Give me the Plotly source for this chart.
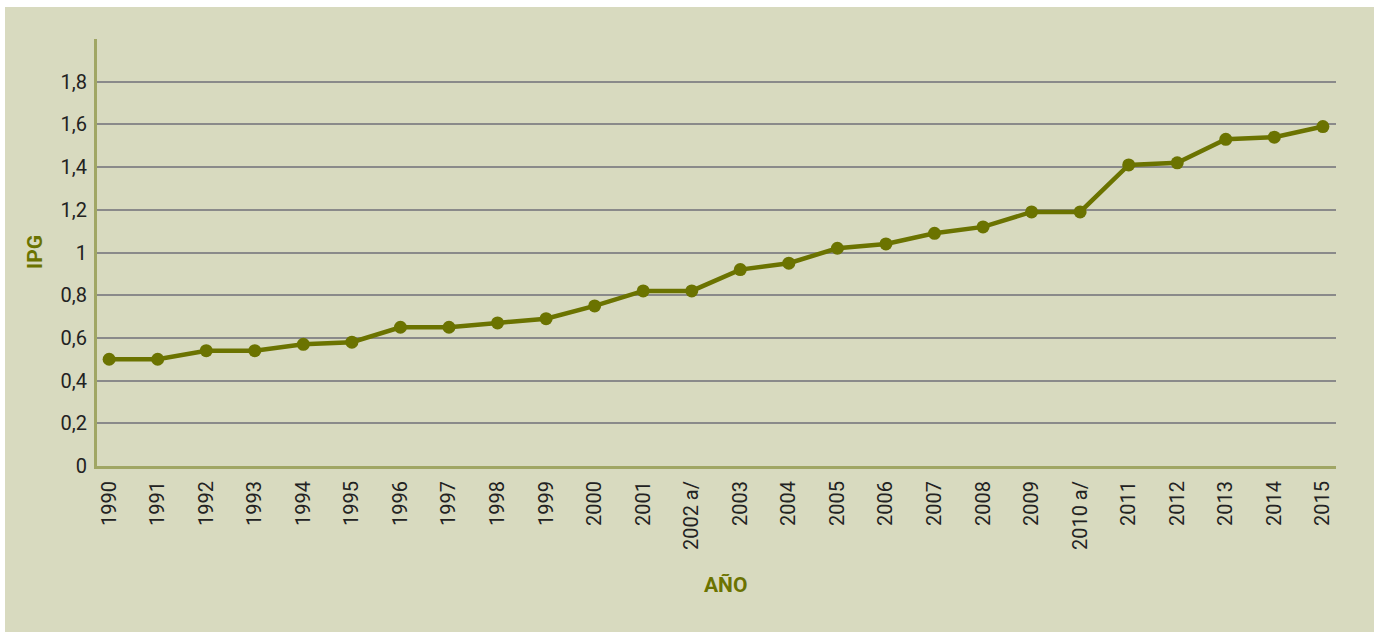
import plotly.graph_objects as go

years = ["1990", "1991", "1992", "1993", "1994", "1995", "1996", "1997", "1998", "1999",
         "2000", "2001", "2002 a/", "2003", "2004", "2005", "2006", "2007", "2008", "2009",
         "2010 a/", "2011", "2012", "2013", "2014", "2015"]
ipg = [0.50, 0.50, 0.54, 0.54, 0.57, 0.58, 0.65, 0.65, 0.67, 0.69,
       0.75, 0.82, 0.82, 0.92, 0.95, 1.02, 1.04, 1.09, 1.12, 1.19,
       1.19, 1.41, 1.42, 1.53, 1.54, 1.59]
ytick_vals = [0, 0.2, 0.4, 0.6, 0.8, 1.0, 1.2, 1.4, 1.6, 1.8]
ytick_text = ["0", "0,2", "0,4", "0,6", "0,8", "1", "1,2", "1,4", "1,6", "1,8"]

OLIVE = "#6b7300"
BG = "#d8dabf"
AXIS = "#a0a664"

W, H = 1378, 632
L, R, T, B = 97, 1336, 39, 466
pw, ph = R - L, B - T

def px(x):
    return (x - L) / pw

def py(y):
    return (B - y) / ph

fig = go.Figure()
fig.add_trace(go.Scatter(
    x=list(range(len(years))), y=ipg, mode="lines+markers",
    line=dict(color=OLIVE, width=4.5),
    marker=dict(color=OLIVE, size=13),
    hoverinfo="skip", showlegend=False, cliponaxis=False,
))

fig.update_layout(
    width=W, height=H,
    margin=dict(l=L, r=W - R, t=T, b=H - B),
    paper_bgcolor="white",
    plot_bgcolor="rgba(0,0,0,0)",
    font=dict(family="Roboto", size=20, color="#222222"),
    shapes=[dict(type="rect", xref="paper", yref="paper",
                 x0=px(5), x1=px(1374), y0=py(632), y1=py(7),
                 fillcolor=BG, line=dict(width=0), layer="below")],
    xaxis=dict(
        range=[-0.25, 25.27],
        tickmode="array", tickvals=list(range(len(years))), ticktext=years,
        tickangle=-90, showgrid=False, zeroline=False,
        showline=True, linecolor=AXIS, linewidth=3,
        ticks="outside", ticklen=4, tickcolor="rgba(0,0,0,0)",
        tickfont=dict(size=20, color="#222222"),
    ),
    yaxis=dict(
        range=[0, 2.0],
        tickmode="array", tickvals=ytick_vals, ticktext=ytick_text,
        showgrid=True, gridcolor="#8a8a8a", gridwidth=1.6,
        zeroline=False, showline=True, linecolor=AXIS, linewidth=3,
        ticks="outside", ticklen=3, tickcolor="rgba(0,0,0,0)",
        tickfont=dict(size=20, color="#222222"),
    ),
    annotations=[
        dict(text="<b>IPG</b>", xref="paper", yref="paper", x=px(35), y=py(252),
             textangle=-90, showarrow=False, font=dict(size=21, color=OLIVE),
             xanchor="center", yanchor="middle"),
        dict(text="<b>AÑO</b>", xref="paper", yref="paper", x=px(725), y=py(585),
             showarrow=False, font=dict(size=21, color=OLIVE),
             xanchor="center", yanchor="middle"),
    ],
)

fig.write_html("out.html", config={"displayModeBar": False},
               post_script="document.body.style.margin='0';")
